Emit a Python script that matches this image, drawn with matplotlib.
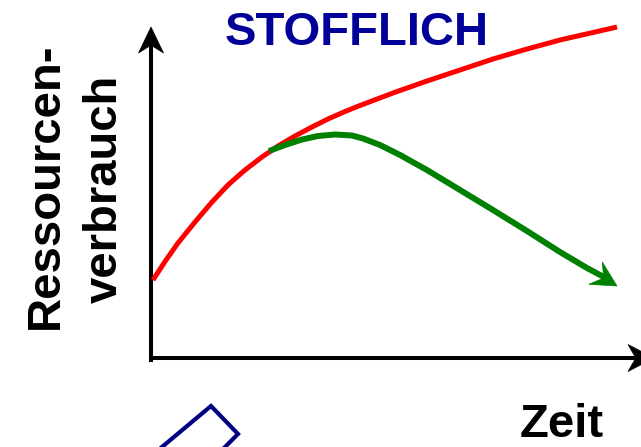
import matplotlib
matplotlib.use("Agg")
import matplotlib.pyplot as plt
from matplotlib.patches import Polygon
import numpy as np

# ---- data (time vs. resource use, arbitrary units; origin at axis corner) ----
red_t = [0, 12, 25, 42, 59, 75, 92, 109, 125, 142, 159, 175, 192, 207,
         240, 274, 307, 340, 374, 407, 440, 464]
red_r = [79, 97.5, 116, 137, 157, 174, 189, 202, 213, 223, 232, 240, 247.5, 253.5,
         266, 278, 289, 300, 310, 319, 326.5, 332]

green_t = [116, 132, 149, 165, 182, 199, 210, 227, 247, 274, 307, 340, 374,
           407, 434, 464]
green_r = [208, 214, 219.5, 223, 224.5, 223.5, 220.5, 214, 204, 189, 169, 149, 128,
           107, 91, 73]

title_text = "STOFFLICH"
ylabel_line1 = "Ressourcen-"
ylabel_line2 = "verbrauch"
xlabel_text = "Zeit"

NAVY = "#000099"

fig = plt.figure(figsize=(6.41, 4.47), dpi=100)
ax = fig.add_axes([0, 0, 1, 1])
ax.set_xlim(-153, 488)
ax.set_ylim(-88, 359)
ax.axis("off")


def arrow_head(tip, prev, length, half_w, notch, color):
    tip = np.asarray(tip, float)
    d = tip - np.asarray(prev, float)
    d /= np.hypot(*d)
    n = np.array([-d[1], d[0]])
    base = tip - length * d
    pts = [tip, base + half_w * n, tip - notch * length * d, base - half_w * n]
    ax.add_patch(Polygon(pts, closed=True, facecolor=color, edgecolor=color,
                         lw=0.5, zorder=5))
    return tip - notch * length * d


# y axis
y_tip = (-2, 332)
nb = arrow_head(y_tip, (-2, 0), 26, 12.5, 0.7, "black")
ax.plot([-2, nb[0]], [-3, nb[1] + 1], color="black", lw=2.9,
        solid_capstyle="butt")
# x axis
x_tip = (501, 1)
nb = arrow_head(x_tip, (0, 1), 26, 13.5, 0.7, "black")
ax.plot([-3, nb[0] + 1], [1, nb[1]], color="black", lw=2.9,
        solid_capstyle="butt")

# red curve
ax.plot(red_t, red_r, color="#ff0000", lw=3.6, solid_capstyle="butt",
        solid_joinstyle="round")

# green curve with arrow head
nb = arrow_head((green_t[-1], green_r[-1]), (green_t[-2], green_r[-2]),
                25, 13, 0.62, "#008000")
ax.plot(green_t[:-1] + [nb[0] + 1], green_r[:-1] + [nb[1] + 0.6],
        color="#008000", lw=4.3, solid_capstyle="butt", solid_joinstyle="round")

# texts
ax.text(204, 314, title_text, color=NAVY, fontsize=34, fontweight="bold",
        family="Liberation Sans", ha="center", va="baseline")
ax.text(-95, 173, ylabel_line1, color="black", fontsize=34, fontweight="bold",
        family="Liberation Sans", rotation=90, rotation_mode="anchor",
        ha="center", va="baseline")
ax.text(-36, 170, ylabel_line2, color="black", fontsize=34, fontweight="bold",
        family="Liberation Sans", rotation=90, rotation_mode="anchor",
        ha="center", va="baseline")
ax.text(367, -78, xlabel_text, color="black", fontsize=34, fontweight="bold",
        family="Liberation Sans", ha="left", va="baseline")

# partial blue diamond at the bottom
diamond_t = [-3, 58, 85, 52]
diamond_r = [-98, -47, -75, -108]
ax.plot(diamond_t, diamond_r, color="#000080", lw=3.0, solid_joinstyle="miter")

fig.savefig("out.png", dpi=100)
